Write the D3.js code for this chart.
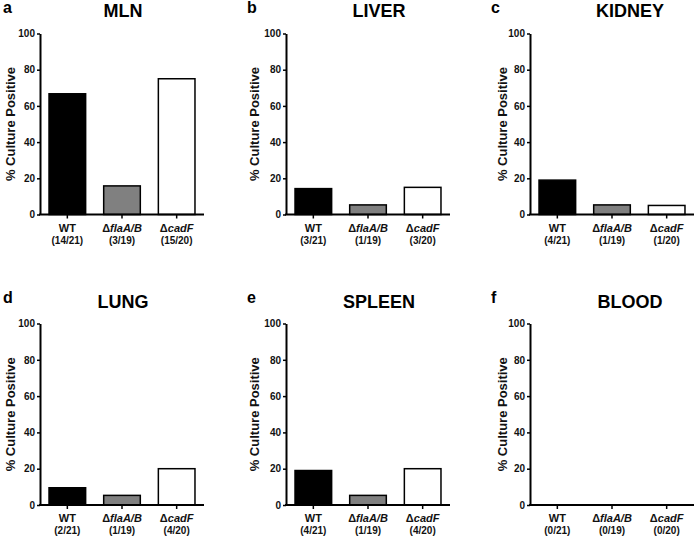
<!DOCTYPE html>
<html>
<head>
<meta charset="utf-8">
<script src="https://cdn.jsdelivr.net/npm/d3@7"></script>
<style>
  html, body { margin: 0; padding: 0; background: #fff; }
  svg { display: block; font-family: "Liberation Sans", Arial, sans-serif; }
</style>
</head>
<body>
<svg id="chart" width="697" height="538"></svg>
<script>
// ---- data ----
const panelTitles = ["MLN", "LIVER", "KIDNEY", "LUNG", "SPLEEN", "BLOOD"];
const panelLetters = ["a", "b", "c", "d", "e", "f"];
const strains = ["WT", "flaA/B", "cadF"];
const strainDelta = [false, true, true];
const barColors = ["#000000", "#808080", "#ffffff"];
const mlnValues    = [66.7, 15.8, 75];
const liverValues  = [14.3, 5.3, 15];
const kidneyValues = [19.0, 5.3, 5];
const lungValues   = [9.5, 5.3, 20];
const spleenValues = [19.0, 5.3, 20];
const bloodValues  = [0, 0, 0];
const mlnCounts    = ["(14/21)", "(3/19)", "(15/20)"];
const liverCounts  = ["(3/21)", "(1/19)", "(3/20)"];
const kidneyCounts = ["(4/21)", "(1/19)", "(1/20)"];
const lungCounts   = ["(2/21)", "(1/19)", "(4/20)"];
const spleenCounts = ["(4/21)", "(1/19)", "(4/20)"];
const bloodCounts  = ["(0/21)", "(0/19)", "(0/20)"];
const yTicks = [0, 20, 40, 60, 80, 100];
const yLabel = "% Culture Positive";

const allValues = [mlnValues, liverValues, kidneyValues, lungValues, spleenValues, bloodValues];
const allCounts = [mlnCounts, liverCounts, kidneyCounts, lungCounts, spleenCounts, bloodCounts];

// ---- layout ----
const colAxisX = [40, 286, 530];
const colTitleX = [123, 379, 630];
const colYLabelX = [10.5, 254.5, 502.5];
const colLetterX = [3, 247, 491];
const rowTop = [33.5, 323.5];
const rowBottom = [214.5, 505];
const plotW = 164;

const svg = d3.select("#chart");

allValues.forEach((vals, i) => {
  const col = i % 3, row = Math.floor(i / 3);
  const g = svg.append("g");
  const x0 = colAxisX[col];
  const x = d3.scaleBand().domain(strains).range([x0, x0 + plotW])
    .paddingInner(0.33).paddingOuter(0.165);
  const y = d3.scaleLinear().domain([0, 100]).range([rowBottom[row], rowTop[row]]);

  // bars
  g.selectAll("rect.bar").data(vals).enter().append("rect")
    .attr("class", "bar")
    .attr("x", (d, j) => x(strains[j]))
    .attr("width", x.bandwidth())
    .attr("y", d => y(d))
    .attr("height", d => y(0) - y(d))
    .attr("fill", (d, j) => barColors[j])
    .attr("stroke", "#000")
    .attr("stroke-width", d => d > 0 ? 1.5 : 0);

  // y axis
  const ya = g.append("g").attr("transform", `translate(${x0},0)`)
    .call(d3.axisLeft(y).tickValues(yTicks).tickSize(3).tickSizeOuter(0).tickPadding(2));
  ya.select(".domain").attr("stroke", "#000").attr("stroke-width", 2);
  ya.selectAll(".tick line").attr("stroke", "#000").attr("stroke-width", 1.5);
  ya.selectAll(".tick text").attr("font-size", 10).attr("font-weight", "bold")
    .attr("fill", "#111").attr("font-family", "Liberation Sans, Arial, sans-serif");

  // x axis
  const xa = g.append("g").attr("transform", `translate(0,${rowBottom[row]})`)
    .call(d3.axisBottom(x).tickSize(4).tickSizeOuter(0).tickFormat(""));
  xa.select(".domain").attr("stroke", "#000").attr("stroke-width", 2).attr("d", `M${x0 - 1},0H${x0 + plotW}`);
  xa.selectAll(".tick line").attr("stroke", "#000").attr("stroke-width", 1.5);

  // category labels
  strains.forEach((s, j) => {
    const cx = x(s) + x.bandwidth() / 2;
    const t = g.append("text").attr("x", cx).attr("y", rowBottom[row] + 17)
      .attr("text-anchor", "middle").attr("font-size", 11).attr("font-weight", "bold").attr("fill", "#111");
    if (strainDelta[j]) {
      t.append("tspan").text("\u0394");
      t.append("tspan").attr("font-style", "italic").text(s);
    } else {
      t.text(s);
    }
    g.append("text").attr("x", cx).attr("y", rowBottom[row] + 29)
      .attr("text-anchor", "middle").attr("font-size", 10).attr("font-weight", "bold").attr("fill", "#111")
      .text(allCounts[i][j]);
  });

  // y label
  const ym = (rowTop[row] + rowBottom[row]) / 2;
  g.append("text")
    .attr("transform", `translate(${colYLabelX[col] + 4.5},${ym}) rotate(-90)`)
    .attr("text-anchor", "middle").attr("font-size", 13).attr("font-weight", "bold").attr("fill", "#111")
    .text(yLabel);

  // title
  g.append("text").attr("x", colTitleX[col]).attr("y", 17 + row * 291)
    .attr("text-anchor", "middle").attr("font-size", 18).attr("font-weight", "bold").attr("fill", "#000")
    .text(panelTitles[i]);

  // panel letter
  g.append("text").attr("x", colLetterX[col]).attr("y", 13 + row * 290)
    .attr("font-size", 16).attr("font-weight", "bold").attr("fill", "#000")
    .text(panelLetters[i]);
});
</script>
</body>
</html>
